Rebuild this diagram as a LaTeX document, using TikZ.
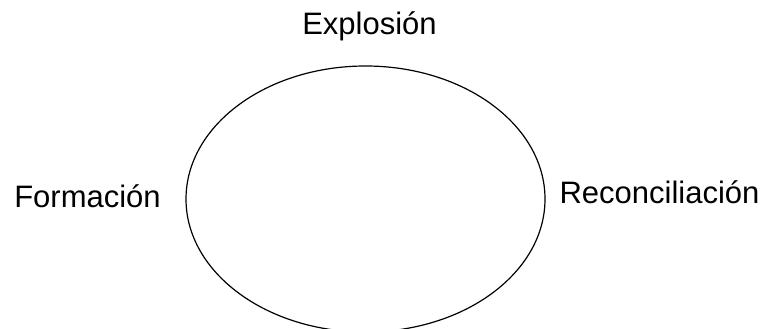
\documentclass[tikz,border=0pt]{standalone}
\usepackage{fontspec}
\setmainfont{Liberation Sans}
\usetikzlibrary{shapes.geometric}
\begin{document}
\begin{tikzpicture}[x=1pt,y=1pt,
  lbl/.style={inner sep=0pt,anchor=base,font=\fontsize{31}{36}\selectfont}]
\useasboundingbox (0,0) rectangle (765,329);
\begin{scope}
\clip (0,0) rectangle (765,329);
\node[draw,line width=1.2pt,ellipse,minimum width=359pt,minimum height=266pt,inner sep=0pt] (cyc) at (365.5,130) {};
\end{scope}
\node[lbl] (exp) at (369.5,294.7) {Explosión};
\node[lbl] (for) at (87.5,121.3) {Formación};
\node[lbl] (rec) at (659.5,125.7) {Reconciliación};
\end{tikzpicture}
\end{document}
